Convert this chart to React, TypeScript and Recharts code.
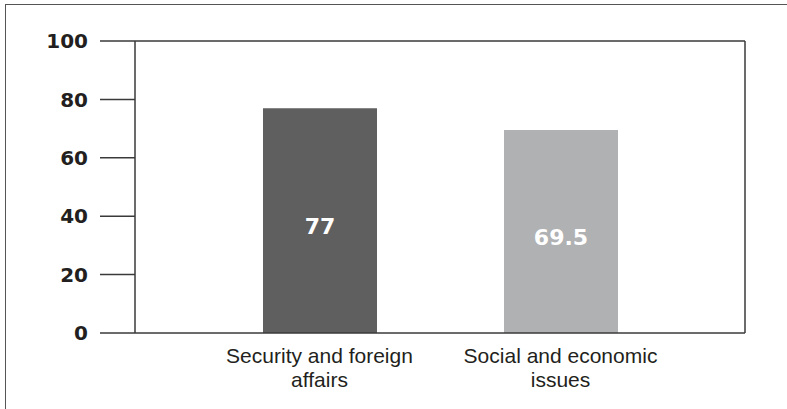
import React from 'react';
import { BarChart, Bar, XAxis, YAxis, Cell, LabelList, ReferenceLine } from 'recharts';

const categories = ['Security and foreign affairs', 'Social and economic issues'];
const values = [77, 69.5];
const barColors = ['#5f5f5f', '#b0b1b3'];
const yTicks = [0, 20, 40, 60, 80, 100];

const data = categories.map((name, i) => ({ name, value: values[i] }));

const AXIS_COLOR = '#3a3a3a';
const TEXT_COLOR = '#231f20';
const CAT_FONT = "21px 'Liberation Sans', Arial, sans-serif";

let ctx: CanvasRenderingContext2D | null = null;
function measure(s: string): number {
  if (!ctx) {
    const c = document.createElement('canvas');
    ctx = c.getContext('2d');
  }
  if (!ctx) return s.length * 10;
  ctx.font = CAT_FONT;
  return ctx.measureText(s).width;
}

function wrap(label: string, maxWidth: number): string[] {
  const words = label.split(' ');
  const lines: string[] = [];
  let cur = '';
  words.forEach((w) => {
    const next = cur ? cur + ' ' + w : w;
    if (cur && measure(next) > maxWidth) {
      lines.push(cur);
      cur = w;
    } else {
      cur = next;
    }
  });
  if (cur) lines.push(cur);
  return lines;
}

const CategoryTick = (props: any) => {
  const { x, y, payload } = props;
  const lines = wrap(String(payload.value), 215);
  return (
    <text
      x={x}
      y={y}
      textAnchor="middle"
      fontFamily="'Liberation Sans', Arial, sans-serif"
      fontSize={21}
      fill={TEXT_COLOR}
    >
      {lines.map((l, i) => (
        <tspan key={i} x={x} dy={i === 0 ? 22 : 24}>
          {l}
        </tspan>
      ))}
    </text>
  );
};

const ValueLabel = (props: any) => {
  const { x, y, width, height, value } = props;
  return (
    <text
      x={x + width / 2}
      y={y + height / 2 + 13}
      textAnchor="middle"
      fontFamily="'DejaVu Sans', sans-serif"
      fontWeight="bold"
      fontSize={22}
      fill="#ffffff"
    >
      {value}
    </text>
  );
};

export default function App() {
  return (
    <div style={{ position: 'absolute', left: 0, top: 0, width: 787, height: 409, overflow: 'hidden', background: '#fff' }}>
      <div
        style={{
          position: 'absolute',
          left: 5,
          top: 3.5,
          width: 900,
          height: 600,
          border: '1.5px solid #555',
          boxSizing: 'border-box',
        }}
      />
      <div style={{ position: 'absolute', left: 0, top: 0 }}>
        <BarChart
          width={787}
          height={409}
          data={data}
          margin={{ top: 41, right: 0, bottom: 0, left: 0 }}
        >
          <XAxis
            dataKey="name"
            height={76}
            padding={{ left: 64, right: 64 }}
            tickLine={false}
            axisLine={{ stroke: AXIS_COLOR, strokeWidth: 1.5 }}
            tick={(p: any) => <CategoryTick {...p} />}
            interval={0}
          />
          <YAxis
            yAxisId="left"
            width={135}
            domain={[0, 100]}
            ticks={yTicks}
            tickSize={35}
            tickMargin={12}
            tickLine={{ stroke: AXIS_COLOR, strokeWidth: 1.5 }}
            axisLine={{ stroke: AXIS_COLOR, strokeWidth: 1.5 }}
            tick={{ fill: TEXT_COLOR, fontSize: 20, fontWeight: 'bold', fontFamily: "'DejaVu Sans', sans-serif" }}
          />
          <YAxis
            yAxisId="right"
            orientation="right"
            width={42}
            domain={[0, 100]}
            tick={false}
            tickLine={false}
            axisLine={{ stroke: AXIS_COLOR, strokeWidth: 1.5 }}
          />
          <ReferenceLine yAxisId="left" y={100} stroke={AXIS_COLOR} strokeWidth={1.5} />
          <Bar yAxisId="left" dataKey="value" barSize={114} isAnimationActive={false}>
            {data.map((d, i) => (
              <Cell key={d.name} fill={barColors[i]} />
            ))}
            <LabelList dataKey="value" content={<ValueLabel />} />
          </Bar>
        </BarChart>
      </div>
    </div>
  );
}
